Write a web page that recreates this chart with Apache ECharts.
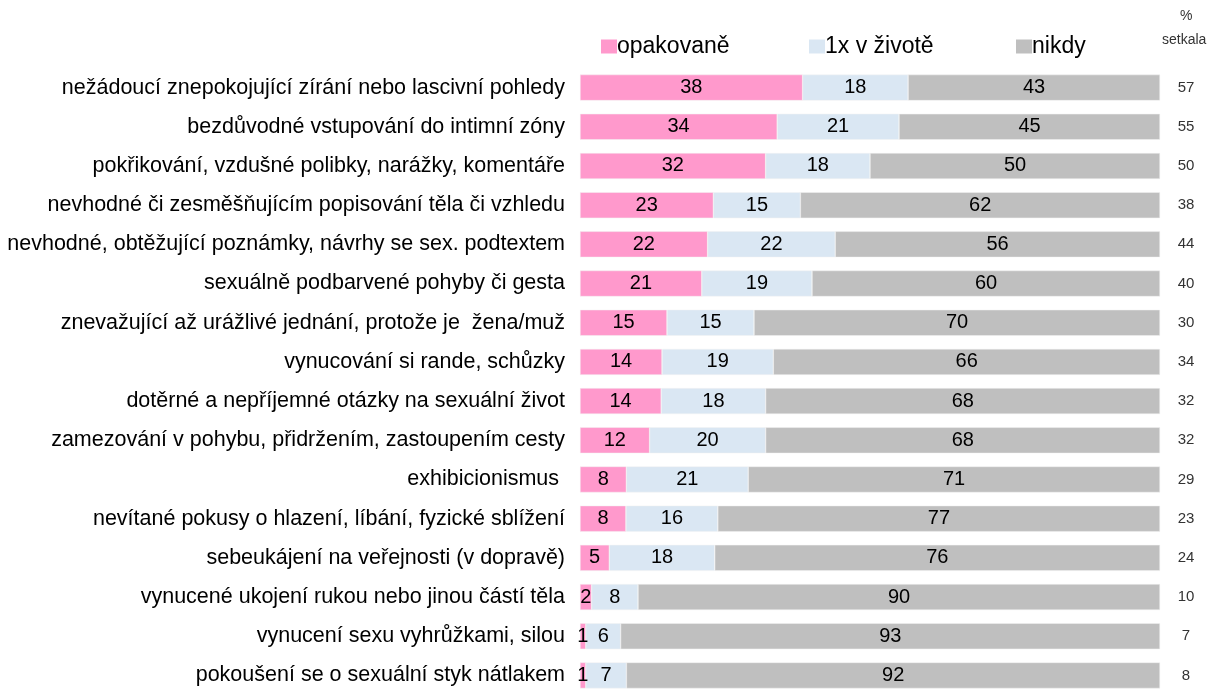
<!DOCTYPE html>
<html>
<head>
<meta charset="utf-8">
<script src="https://cdn.jsdelivr.net/npm/echarts@6/dist/echarts.min.js"></script>
<style>
  html, body { margin: 0; padding: 0; background: #fff; }
  #chart { width: 1224px; height: 695px; }
</style>
</head>
<body>
<div id="chart"></div>
<script>
// kategorie (shora dolu)
var categories = [
    'nežádoucí znepokojující zírání nebo lascivní pohledy',
    'bezdůvodné vstupování do intimní zóny',
    'pokřikování, vzdušné polibky, narážky, komentáře',
    'nevhodné či zesměšňujícím popisování těla či vzhledu',
    'nevhodné, obtěžující poznámky, návrhy se sex. podtextem',
    'sexuálně podbarvené pohyby či gesta',
    'znevažující až urážlivé jednání, protože je  žena/muž',
    'vynucování si rande, schůzky',
    'dotěrné a nepříjemné otázky na sexuální život',
    'zamezování v pohybu, přidržením, zastoupením cesty',
    'exhibicionismus ',
    'nevítané pokusy o hlazení, líbání, fyzické sblížení',
    'sebeukájení na veřejnosti (v dopravě)',
    'vynucené ukojení rukou nebo jinou částí těla',
    'vynucení sexu vyhrůžkami, silou',
    'pokoušení se o sexuální styk nátlakem'
];
var opakovane = [38, 34, 32, 23, 22, 21, 15, 14, 14, 12, 8, 8, 5, 2, 1, 1];
var jednou = [18, 21, 18, 15, 22, 19, 15, 19, 18, 20, 21, 16, 18, 8, 6, 7];
var nikdy = [43, 45, 50, 62, 56, 60, 70, 66, 68, 68, 71, 77, 76, 90, 93, 92];
var setkala = [57, 55, 50, 38, 44, 40, 30, 34, 32, 32, 29, 23, 24, 10, 7, 8];

var seriesNames = ['opakovaně', '1x v životě', 'nikdy'];
var colors = ['#FF99CC', '#DAE7F3', '#BFBFBF'];

var font = '"Liberation Sans", Arial, sans-serif';

// 100% skladany graf - podil z radkoveho souctu, popisek = puvodni hodnota
function share(arr) {
    return arr.map(function (v, i) {
        var total = opakovane[i] + jednou[i] + nikdy[i];
        return { value: v / total * 100, raw: v };
    });
}

var chart = echarts.init(document.getElementById('chart'));

function makeSeries(name, data, color) {
    return {
        name: name,
        type: 'bar',
        stack: 'celkem',
        barWidth: 26,
        data: share(data),
        itemStyle: { color: color, borderColor: '#f2f2f2', borderWidth: 0.5 },
        label: {
            show: true,
            position: 'inside',
            color: '#000',
            fontFamily: font,
            fontSize: 20,
            formatter: function (p) { return p.data.raw; }
        },
        emphasis: { disabled: true }
    };
}

var legendLefts = [596, 804, 1011];

var option = {
    backgroundColor: '#fff',
    animation: false,
    legend: seriesNames.map(function (n, i) {
        return {
            data: [{ name: n, itemStyle: { borderWidth: 0 } }],
            left: legendLefts[i],
            top: 30,
            itemWidth: 16,
            itemHeight: 14,
            itemGap: 0,
            icon: 'rect',
            selectedMode: false,
            textStyle: { fontFamily: font, fontSize: 23, color: '#000', padding: [0, 0, 0, -5] }
        };
    }),
    graphic: [
        { type: 'text', left: 1180, top: 9, style: { text: '%', font: '14px ' + font, fill: '#333' } },
        { type: 'text', left: 1162, top: 33, style: { text: 'setkala', font: '14px ' + font, fill: '#333' } }
    ],
    grid: { left: 580, right: 64, top: 68, height: 635, containLabel: false },
    xAxis: {
        type: 'value',
        min: 0,
        max: 100,
        show: false
    },
    yAxis: [{
        type: 'category',
        data: categories,
        inverse: true,
        axisLine: { show: false },
        axisTick: { show: false },
        axisLabel: {
            margin: 15,
            color: '#000',
            fontFamily: font,
            fontSize: 21.5
        }
    }, {
        type: 'category',
        data: categories,
        inverse: true,
        position: 'right',
        axisLine: { show: false },
        axisTick: { show: false },
        axisLabel: {
            margin: 26,
            align: 'center',
            color: '#333',
            fontFamily: font,
            fontSize: 15,
            padding: [0, 0, 8, 0],
            formatter: function (v, i) { return setkala[i]; }
        }
    }],
    series: [
        makeSeries(seriesNames[0], opakovane, colors[0]),
        makeSeries(seriesNames[1], jednou, colors[1]),
        makeSeries(seriesNames[2], nikdy, colors[2])
    ]
};

chart.setOption(option);
</script>
</body>
</html>
